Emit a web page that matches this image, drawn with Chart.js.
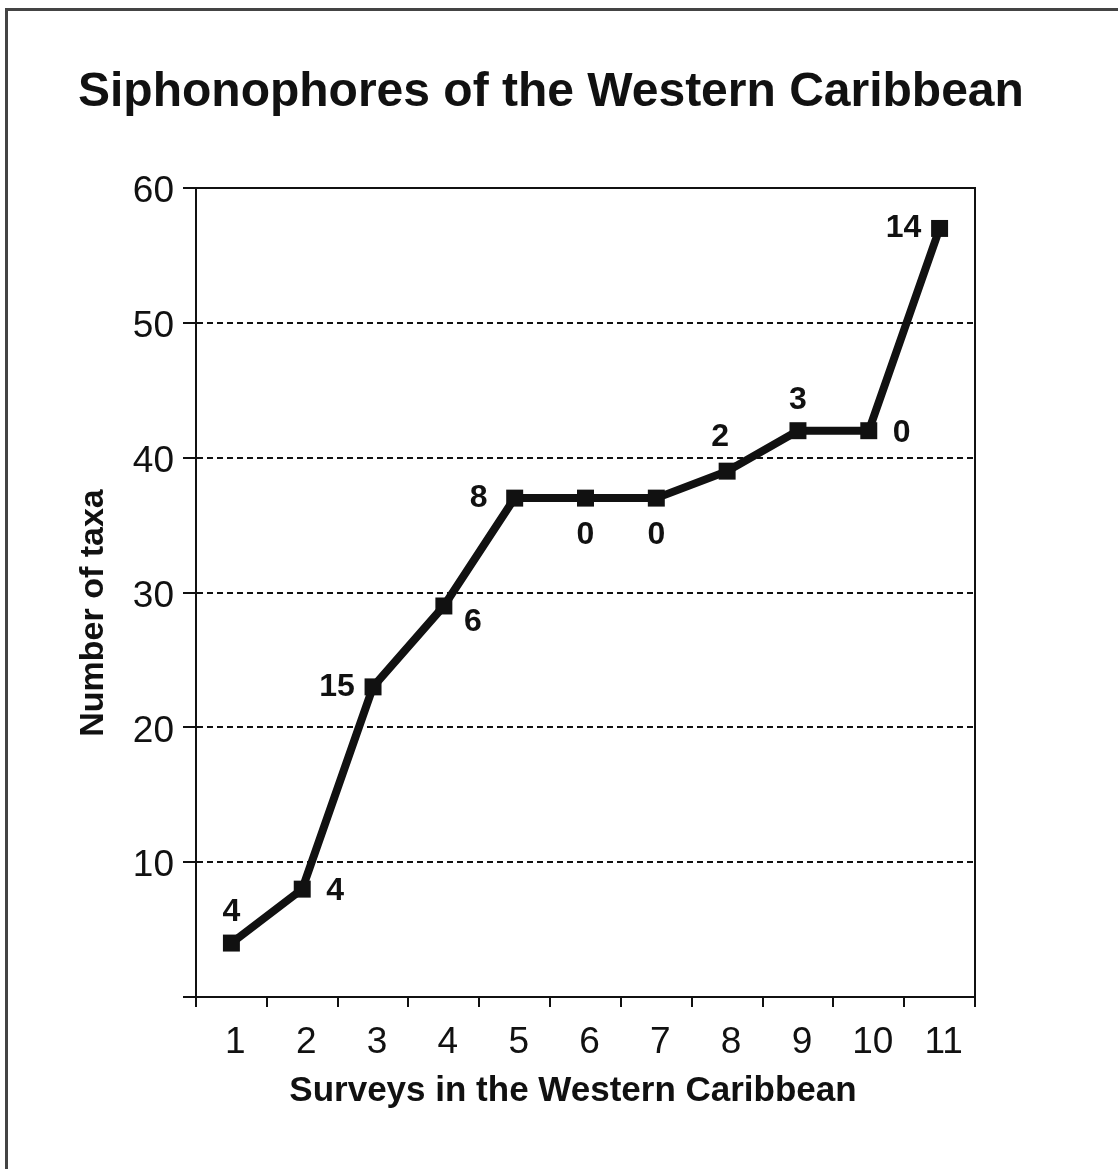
<!DOCTYPE html>
<html>
<head>
<meta charset="utf-8">
<script src="https://cdn.jsdelivr.net/npm/chart.js@4/dist/chart.umd.min.js"></script>
<style>
  html, body { margin: 0; padding: 0; background: #ffffff; }
  canvas { display: block; }
</style>
</head>
<body>
<canvas id="c" width="1118" height="1169"></canvas>
<script>
// ---- data ----
const surveys = ['1', '2', '3', '4', '5', '6', '7', '8', '9', '10', '11'];
const cumulativeTaxa = [4, 8, 23, 29, 37, 37, 37, 39, 42, 42, 57];
const newTaxaLabels = ['4', '4', '15', '6', '8', '0', '0', '2', '3', '0', '14'];
const yTicks = [0, 10, 20, 30, 40, 50, 60];

const chartTitle = 'Siphonophores of the Western Caribbean';
const xTitle = 'Surveys in the Western Caribbean';
const yTitle = 'Number of taxa';

// label placement relative to each point (style only)
const labelAnchor = ['above', 'right', 'left', 'belowRight', 'left', 'below', 'below', 'aboveLeft', 'above', 'right', 'left'];
const anchorOffset = {
  above: [0, -31], below: [0, 37], left: [-36, 0], right: [33, 2],
  belowRight: [29, 16], aboveLeft: [-7, -34]
};

const FONT = '"Liberation Sans", Arial, Helvetica, sans-serif';

const decorPlugin = {
  id: 'decor',
  beforeDraw(chart) {
    const ctx = chart.ctx;
    ctx.save();
    ctx.fillStyle = '#ffffff';
    ctx.fillRect(0, 0, chart.width, chart.height);
    // outer frame (top and left only)
    ctx.strokeStyle = '#444444';
    ctx.lineWidth = 3;
    ctx.beginPath();
    ctx.moveTo(6.5, chart.height);
    ctx.lineTo(6.5, 9.5);
    ctx.lineTo(chart.width, 9.5);
    ctx.stroke();
    // main title
    ctx.fillStyle = '#111111';
    ctx.font = 'bold 48px ' + FONT;
    ctx.textAlign = 'left';
    ctx.textBaseline = 'middle';
    ctx.fillText(chartTitle, 78, 93);
    ctx.restore();
  },
  beforeDatasetsDraw(chart) {
    const ctx = chart.ctx;
    const a = chart.chartArea;
    ctx.save();
    ctx.fillStyle = '#ffffff';
    ctx.fillRect(a.left + 1, a.top - 2, a.right - a.left + 2, 4);
    ctx.strokeStyle = '#111111';
    ctx.lineWidth = 2;
    ctx.setLineDash([]);
    ctx.beginPath();
    ctx.moveTo(a.left - 13, a.top);
    ctx.lineTo(a.right, a.top);
    ctx.lineTo(a.right, a.bottom);
    ctx.stroke();
    ctx.restore();
  },
  afterDatasetsDraw(chart) {
    const ctx = chart.ctx;
    const meta = chart.getDatasetMeta(0);
    ctx.save();
    ctx.fillStyle = '#111111';
    ctx.font = 'bold 32px ' + FONT;
    ctx.textAlign = 'center';
    ctx.textBaseline = 'middle';
    meta.data.forEach((pt, i) => {
      const off = anchorOffset[labelAnchor[i]];
      ctx.fillText(newTaxaLabels[i], pt.x + off[0], pt.y + off[1]);
    });
    // axis titles
    ctx.font = 'bold 35px ' + FONT;
    ctx.fillText(xTitle, 573, 1091);
    ctx.save();
    ctx.translate(94, 613);
    ctx.rotate(-Math.PI / 2);
    ctx.font = 'bold 34px ' + FONT;
    ctx.fillText(yTitle, 0, 0);
    ctx.restore();
    ctx.restore();
  }
};

new Chart(document.getElementById('c'), {
  type: 'line',
  data: {
    labels: surveys,
    datasets: [{
      data: cumulativeTaxa,
      borderColor: '#111111',
      backgroundColor: '#111111',
      borderWidth: 8,
      pointStyle: 'rect',
      pointRadius: 12,
      pointBorderWidth: 0,
      pointBackgroundColor: '#111111',
      tension: 0,
      fill: false
    }]
  },
  options: {
    responsive: false,
    animation: false,
    devicePixelRatio: 1,
    layout: { padding: { left: 78, right: 143, top: 188, bottom: 0 } },
    plugins: {
      legend: { display: false },
      tooltip: { enabled: false },
      title: { display: false }
    },
    scales: {
      x: {
        type: 'category',
        offset: true,
        afterFit(scale) { scale.height = 172; },
        grid: {
          offset: true,
          drawOnChartArea: false,
          drawTicks: true,
          tickLength: 10,
          color: '#111111',
          tickColor: '#111111',
          lineWidth: 2
        },
        border: { display: true, color: '#111111', width: 2 },
        ticks: {
          color: '#111111',
          font: { family: FONT, size: 37 },
          padding: 14,
          labelOffset: 4,
          maxRotation: 0,
          autoSkip: false
        }
      },
      y: {
        type: 'linear',
        min: 0,
        max: 60,
        afterFit(scale) { scale.width = 118; },
        afterBuildTicks(scale) { scale.ticks = yTicks.map(v => ({ value: v })); },
        grid: {
          drawOnChartArea: true,
          drawTicks: true,
          tickLength: 13,
          color: '#111111',
          tickColor: '#111111',
          lineWidth: 2,
          tickBorderDash: []
        },
        border: { display: true, color: '#111111', width: 2, dash: [6, 4] },
        ticks: {
          color: '#111111',
          font: { family: FONT, size: 37 },
          padding: 9,
          labelOffset: 4,
          callback: (v) => (v === 0 ? '' : String(v))
        }
      }
    }
  },
  plugins: [decorPlugin]
});
</script>
</body>
</html>
